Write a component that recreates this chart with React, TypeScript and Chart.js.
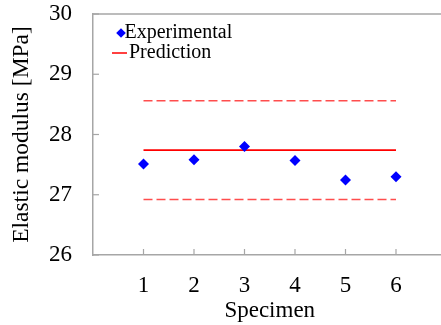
import React, { useEffect, useRef } from "react";
import { Chart, registerables } from "chart.js";

Chart.register(...registerables);

const specimens = [1, 2, 3, 4, 5, 6];
const experimental = [27.51, 27.58, 27.8, 27.57, 27.245, 27.3];
const predictionMean = 27.74;
const predictionUpper = 28.56;
const predictionLower = 26.92;
const yTicks = [26, 27, 28, 29, 30];
const xRange = [0, 7];

const AXIS_COLOR = "#a6a6a6";
const FONT = "'Liberation Serif', 'Times New Roman', serif";

const spanLine = (v: number) => [
  { x: specimens[0], y: v },
  { x: specimens[specimens.length - 1], y: v },
];

const zeroPad = (s: any) => {
  s.paddingTop = 0;
  s.paddingBottom = 0;
  s.paddingLeft = 0;
  s.paddingRight = 0;
};

const framePlugin = {
  id: "frame",
  afterDraw(chart: any) {
    const { ctx, chartArea } = chart;
    const xs = chart.scales.x;
    const ys = chart.scales.y;
    ctx.save();
    ctx.strokeStyle = AXIS_COLOR;
    ctx.lineWidth = 1.5;
    // top border
    ctx.beginPath();
    ctx.moveTo(chartArea.left, chartArea.top);
    ctx.lineTo(chartArea.right, chartArea.top);
    ctx.stroke();
    // inward y ticks
    ctx.lineWidth = 1.2;
    yTicks.forEach((t) => {
      const py = ys.getPixelForValue(t);
      ctx.beginPath();
      ctx.moveTo(chartArea.left, py);
      ctx.lineTo(chartArea.left + 6, py);
      ctx.stroke();
    });
    // inward x ticks
    specimens.forEach((s) => {
      const px = xs.getPixelForValue(s);
      ctx.beginPath();
      ctx.moveTo(px, chartArea.bottom);
      ctx.lineTo(px, chartArea.bottom - 6);
      ctx.stroke();
    });
    // legend
    const lx = chartArea.left + 28;
    const ly1 = chartArea.top + 19;
    const ly2 = chartArea.top + 39;
    ctx.fillStyle = "#0000ff";
    const r = 4.8;
    ctx.beginPath();
    ctx.moveTo(lx - r, ly1);
    ctx.lineTo(lx, ly1 - r);
    ctx.lineTo(lx + r, ly1);
    ctx.lineTo(lx, ly1 + r);
    ctx.closePath();
    ctx.fill();
    ctx.strokeStyle = "#ff0000";
    ctx.lineWidth = 1.5;
    ctx.beginPath();
    ctx.moveTo(lx - 9, ly2);
    ctx.lineTo(lx + 6, ly2);
    ctx.stroke();
    ctx.fillStyle = "#000";
    ctx.font = `20px ${FONT}`;
    ctx.textBaseline = "middle";
    ctx.textAlign = "left";
    ctx.fillText(chart.data.datasets[0].label, lx + 3.5, ly1);
    ctx.fillText(chart.data.datasets[1].label, lx + 8, ly2);
    ctx.restore();
  },
};

export default function App() {
  const ref = useRef<HTMLCanvasElement>(null);
  useEffect(() => {
    if (!ref.current) return;
    const chart = new Chart(ref.current, {
      type: "scatter",
      data: {
        datasets: [
          {
            label: "Experimental",
            data: specimens.map((s, i) => ({ x: s, y: experimental[i] })),
            pointStyle: "rectRot",
            pointRadius: 5.5,
            pointHoverRadius: 5.5,
            backgroundColor: "#0000ff",
            borderColor: "#0000ff",
            borderWidth: 0,
          },
          {
            label: "Prediction",
            type: "line",
            data: spanLine(predictionMean),
            borderColor: "#ff0000",
            borderWidth: 1.8,
            pointRadius: 0,
            showLine: true,
          },
          {
            label: "Upper",
            type: "line",
            data: spanLine(predictionUpper),
            borderColor: "#ff4d4d",
            borderWidth: 1.5,
            borderDash: [9, 4],
            pointRadius: 0,
            showLine: true,
          },
          {
            label: "Lower",
            type: "line",
            data: spanLine(predictionLower),
            borderColor: "#ff4d4d",
            borderWidth: 1.5,
            borderDash: [9, 4],
            pointRadius: 0,
            showLine: true,
          },
        ] as any,
      },
      options: {
        animation: false,
        responsive: false,
        layout: { padding: { top: 14, right: 2, left: 0, bottom: 0 } },
        plugins: {
          legend: { display: false },
          tooltip: { enabled: false },
        },
        scales: {
          x: {
            type: "linear",
            min: xRange[0],
            max: xRange[1],
            grid: { display: false, drawTicks: false },
            border: { display: true, color: AXIS_COLOR, width: 1.5 },
            ticks: {
              stepSize: 1,
              padding: 17,
              color: "#000",
              font: { family: FONT, size: 23 },
              callback: (v: any) => (specimens.includes(Number(v)) ? String(v) : ""),
              maxRotation: 0,
            },
            title: {
              display: true,
              text: "Specimen",
              color: "#000",
              font: { family: FONT, size: 23 },
              padding: { top: 0, bottom: 0 },
            },
            afterFit: (s: any) => {
              s.height = 70;
              zeroPad(s);
            },
          },
          y: {
            min: yTicks[0],
            max: yTicks[yTicks.length - 1],
            grid: { display: false, drawTicks: false },
            border: { display: true, color: AXIS_COLOR, width: 1.5 },
            ticks: {
              stepSize: 1,
              padding: 21,
              color: "#000",
              font: { family: FONT, size: 23 },
            },
            title: {
              display: true,
              text: "Elastic modulus [MPa]",
              color: "#000",
              font: { family: FONT, size: 23.5 },
              padding: { top: 7.5, bottom: 0 },
            },
            afterFit: (s: any) => {
              s.width = 93;
              zeroPad(s);
            },
          },
        },
      } as any,
      plugins: [framePlugin],
    });
    return () => chart.destroy();
  }, []);
  return (
    <div
      style={{
        position: "fixed",
        left: 0,
        top: 0,
        width: 441,
        height: 325,
        overflow: "hidden",
        background: "#fff",
      }}
    >
      <canvas ref={ref} width={452} height={325} style={{ display: "block" }} />
    </div>
  );
}
